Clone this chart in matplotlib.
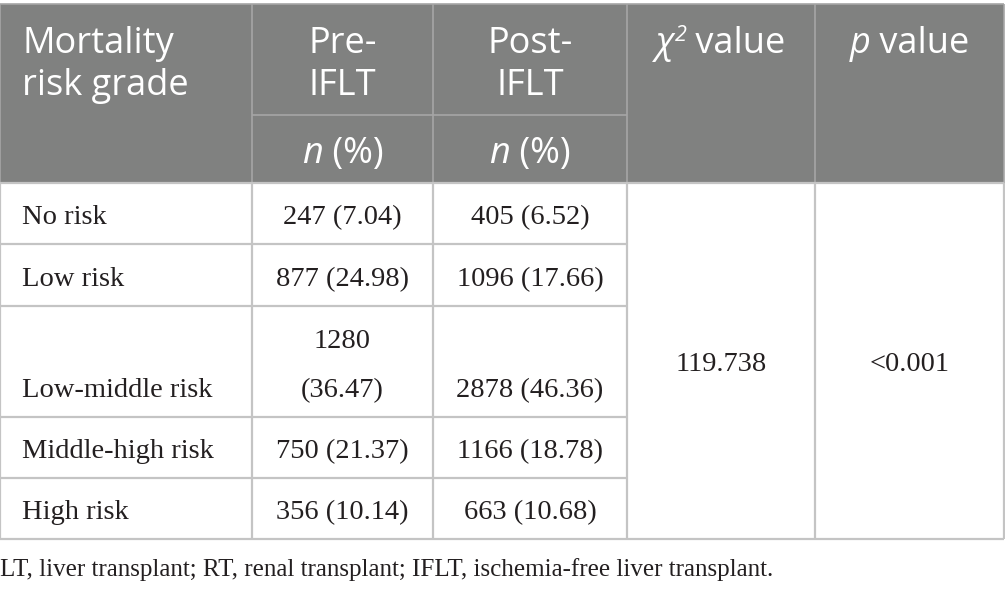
import matplotlib
matplotlib.use("Agg")
import matplotlib.pyplot as plt

# ---- data ----
grades = ["No risk", "Low risk", "Low-middle risk", "Middle-high risk", "High risk"]
pre_iflt = ["247 (7.04)", "877 (24.98)", "1280\n(36.47)", "750 (21.37)", "356 (10.14)"]
post_iflt = ["405 (6.52)", "1096 (17.66)", "2878 (46.36)", "1166 (18.78)", "663 (10.68)"]
chi2_value = "119.738"
p_value = "<0.001"
header_first = "Mortality\nrisk grade"
header_pre = "Pre-\nIFLT"
header_post = "Post-\nIFLT"
sub_header = "n (%)"
footnote = "LT, liver transplant; RT, renal transplant; IFLT, ischemia-free liver transplant."

# ---- layout (pixels) ----
W, H = 1005, 592
col_edges = [0, 252, 433, 627, 815, 1004]
head_top, head_mid, head_bot = 4, 115, 183
row_edges = [183, 244, 306, 417, 478, 539]

HEAD_BG = "#808180"
HEAD_LINE = "#a6a6a6"
GRID = "#c4c4c4"
SANS = "Open Sans"
SERIF = "Liberation Serif"
HFS = 26
BFS = 20.5

fig = plt.figure(figsize=(W / 100, H / 100), dpi=100)
ax = fig.add_axes([0, 0, 1, 1])
ax.set_xlim(0, W)
ax.set_ylim(H, 0)
ax.axis("off")

# header background
ax.fill_between([col_edges[0], col_edges[-1]], head_top, head_bot, color=HEAD_BG, lw=0)
ax.hlines(head_top, col_edges[0], col_edges[-1], color=HEAD_LINE, lw=1.2)
ax.hlines(head_mid, col_edges[1], col_edges[3], color=HEAD_LINE, lw=1.2)
ax.vlines(col_edges[1:-1], head_top, head_bot, color=HEAD_LINE, lw=1.2)
ax.vlines([col_edges[0], col_edges[-1]], head_top, head_bot, color=HEAD_LINE, lw=1.2)

# body grid
ax.hlines(row_edges[0], col_edges[0], col_edges[-1], color=GRID, lw=1.6)
ax.hlines(row_edges[-1], col_edges[0], col_edges[-1], color=GRID, lw=1.6)
ax.hlines(row_edges[1:-1], col_edges[0], col_edges[3], color=GRID, lw=1.6)
ax.vlines(col_edges, row_edges[0], row_edges[-1], color=GRID, lw=1.6)

fig.canvas.draw()
renderer = fig.canvas.get_renderer()


def run_text(xc, y, runs):
    """runs: list of (text, dict(style)); centered at xc, baseline y."""
    widths = []
    arts = []
    for txt, st in runs:
        t = ax.text(0, y + st.get("dy", 0), txt, va="baseline", ha="left",
                    **{k: v for k, v in st.items() if k != "dy"})
        bb = t.get_window_extent(renderer)
        widths.append(bb.width)
        arts.append(t)
    total = sum(widths)
    x = xc - total / 2
    for t, w in zip(arts, widths):
        t.set_x(x)
        x += w


hstyle = dict(family=SANS, fontsize=HFS, color="white")

# header texts
ax.text(22, 53, "Mortality", ha="left", va="baseline", **hstyle)
ax.text(22, 95, "risk grade", ha="left", va="baseline", **hstyle)
for lbl, c in ((header_pre, 1), (header_post, 2)):
    xc = (col_edges[c] + col_edges[c + 1]) / 2
    l1, l2 = lbl.split("\n")
    ax.text(xc, 53, l1, ha="center", va="baseline", **hstyle)
    ax.text(xc, 95, l2, ha="center", va="baseline", **hstyle)
    run_text(xc, 163, [("n", dict(hstyle, style="italic")), (" (%)", hstyle)])

run_text((col_edges[3] + col_edges[4]) / 2, 53,
         [("χ", dict(hstyle, style="italic")),
          ("2", dict(hstyle, style="italic", fontsize=HFS * 0.6, dy=-12)),
          (" value", hstyle)])
run_text((col_edges[4] + col_edges[5]) / 2, 53,
         [("p", dict(hstyle, style="italic")), (" value", hstyle)])

# body texts
bstyle = dict(family=SERIF, fontsize=BFS, color="#231f20")
line_gap = 49
for i in range(len(grades)):
    base = row_edges[i + 1] - 20
    ax.text(22, base, grades[i], ha="left", va="baseline", **bstyle)
    for c, vals in ((1, pre_iflt), (2, post_iflt)):
        xc = (col_edges[c] + col_edges[c + 1]) / 2
        lines = vals[i].split("\n")
        for k, ln in enumerate(lines):
            ax.text(xc, base - (len(lines) - 1 - k) * line_gap, ln,
                    ha="center", va="baseline", **bstyle)

mid_y = (row_edges[0] + row_edges[-1]) / 2 + 10
ax.text((col_edges[3] + col_edges[4]) / 2, mid_y, chi2_value, ha="center", va="baseline", **bstyle)
ax.text((col_edges[4] + col_edges[5]) / 2, mid_y, p_value, ha="center", va="baseline", **bstyle)

ax.text(0, 576, footnote, ha="left", va="baseline", family=SERIF, fontsize=18, color="#231f20")

fig.savefig("out.png", dpi=100)
